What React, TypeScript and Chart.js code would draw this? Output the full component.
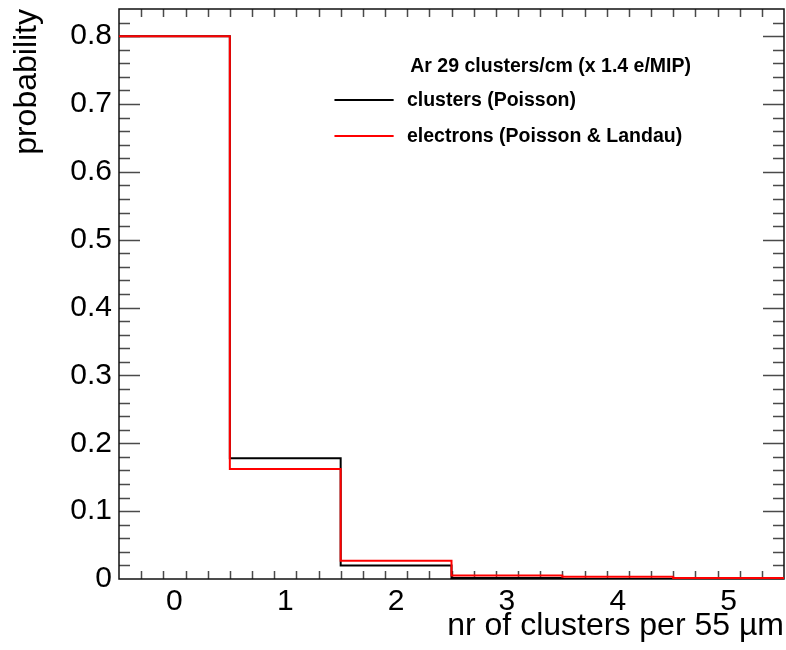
import React, { useEffect, useRef } from 'react';
import { Chart, registerables } from 'chart.js';

Chart.register(...registerables);

// ---- data ----
const binCenters = [0, 1, 2, 3, 4, 5];
const clustersPoisson = [0.8, 0.178, 0.02, 0.0015, 0.0001, 0.0];
const electronsPoissonLandau = [0.8, 0.162, 0.027, 0.005, 0.0032, 0.0015];
const xTickValues = [0, 1, 2, 3, 4, 5];
const yTickValues = [0, 0.1, 0.2, 0.3, 0.4, 0.5, 0.6, 0.7, 0.8];
const legendHeader = 'Ar 29 clusters/cm (x 1.4 e/MIP)';
const seriesLabels = ['clusters (Poisson)', 'electrons (Poisson & Landau)'];
const seriesColors = ['#000000', '#ff0000'];
const xTitle = 'nr of clusters per 55 \u00b5m';
const yTitle = 'probability';
const xRange = [-0.5, 5.5];
const yRange = [0, 0.84];
const xMinorStep = 0.2;
const yMinorStep = 0.02;

const FONT = "'Liberation Sans', Arial, Helvetica, sans-serif";

function toSteps(values: number[]) {
  const pts = values.map((v, i) => ({ x: binCenters[i] - 0.5, y: v }));
  const last = values.length - 1;
  pts.push({ x: binCenters[last] + 0.5, y: values[last] });
  return pts;
}

const framePlugin = {
  id: 'rootFrame',
  beforeDatasetsDraw(chart: any) {
    const { ctx, chartArea: a, scales } = chart;
    const xs = scales.x;
    const ys = scales.y;
    ctx.save();
    ctx.strokeStyle = '#4a4a4a';
    ctx.lineWidth = 1.5;
    ctx.beginPath();
    const nx = Math.round((xRange[1] - xRange[0]) / xMinorStep);
    for (let i = 0; i <= nx; i++) {
      const v = xRange[0] + i * xMinorStep;
      const isMajor = Math.abs(v - Math.round(v)) < 1e-6;
      const len = isMajor ? 17 : 8;
      const px = Math.round(xs.getPixelForValue(v)) + 0.5;
      if (px <= a.left + 1 || px >= a.right - 1) continue;
      ctx.moveTo(px, a.bottom);
      ctx.lineTo(px, a.bottom - len);
      ctx.moveTo(px, a.top);
      ctx.lineTo(px, a.top + len);
    }
    const ny = Math.round((yRange[1] - yRange[0]) / yMinorStep);
    for (let i = 0; i <= ny; i++) {
      const v = yRange[0] + i * yMinorStep;
      const isMajor = Math.abs(v * 10 - Math.round(v * 10)) < 1e-6;
      const len = isMajor ? 21 : 11;
      const py = Math.round(ys.getPixelForValue(v)) + 0.5;
      if (py <= a.top + 1 || py >= a.bottom - 1) continue;
      ctx.moveTo(a.left, py);
      ctx.lineTo(a.left + len, py);
      ctx.moveTo(a.right, py);
      ctx.lineTo(a.right - len, py);
    }
    ctx.stroke();
    ctx.strokeStyle = '#111111';
    ctx.lineWidth = 1.5;
    ctx.strokeRect(a.left, a.top, a.right - a.left, a.bottom - a.top);
    ctx.restore();
  },
  afterDatasetsDraw(chart: any) {
    const { ctx, chartArea: a } = chart;
    const w = a.right - a.left;
    ctx.save();
    ctx.fillStyle = '#000';
    ctx.font = `bold 19.5px ${FONT}`;
    ctx.textBaseline = 'middle';
    ctx.textAlign = 'left';
    const headerX = a.left + w * 0.438;
    ctx.fillText(legendHeader, headerX, a.top + 58);
    const lineX0 = a.left + w * 0.324;
    const lineX1 = a.left + w * 0.413;
    const textX = a.left + w * 0.433;
    const rows = [a.top + 91, a.top + 127];
    seriesLabels.forEach((lab, i) => {
      ctx.strokeStyle = seriesColors[i];
      ctx.lineWidth = 2;
      ctx.beginPath();
      ctx.moveTo(lineX0, rows[i]);
      ctx.lineTo(lineX1, rows[i]);
      ctx.stroke();
      ctx.fillStyle = '#000';
      ctx.fillText(lab, textX, rows[i] + 1);
    });
    ctx.restore();
  },
};

export default function App() {
  const ref = useRef<HTMLCanvasElement | null>(null);
  useEffect(() => {
    document.body.style.margin = '0';
    const canvas = ref.current;
    if (!canvas) return;
    const chart = new Chart(canvas, {
      type: 'line',
      data: {
        datasets: [
          {
            label: seriesLabels[0],
            data: toSteps(clustersPoisson),
            borderColor: seriesColors[0],
            borderWidth: 2,
            stepped: true,
            pointRadius: 0,
            fill: false,
            order: 2,
          },
          {
            label: seriesLabels[1],
            data: toSteps(electronsPoissonLandau),
            borderColor: seriesColors[1],
            borderWidth: 2,
            stepped: true,
            pointRadius: 0,
            fill: false,
            order: 1,
          },
        ],
      },
      options: {
        responsive: false,
        animation: false,
        events: [],
        layout: { padding: { top: 9, right: 2, left: 0, bottom: 0 } },
        plugins: {
          legend: { display: false },
          tooltip: { enabled: false },
        },
        scales: {
          x: {
            type: 'linear',
            min: xRange[0],
            max: xRange[1],
            afterBuildTicks: (s: any) => {
              s.ticks = xTickValues.map((v) => ({ value: v }));
            },
            afterFit: (s: any) => {
              s.height = 71;
              s.paddingLeft = 0;
              s.paddingRight = 0;
            },
            grid: { display: false, drawTicks: false },
            border: { display: false },
            ticks: {
              color: '#000',
              font: { family: FONT, size: 30 },
              padding: 5,
              maxRotation: 0,
              autoSkip: false,
              callback: (v: any) => String(v),
            },
            title: {
              display: true,
              text: xTitle,
              align: 'end',
              color: '#000',
              font: { family: FONT, size: 32 },
              padding: { top: 0, bottom: 5 },
            },
          },
          y: {
            type: 'linear',
            min: yRange[0],
            max: yRange[1],
            afterBuildTicks: (s: any) => {
              s.ticks = yTickValues.map((v) => ({ value: v }));
            },
            afterFit: (s: any) => {
              s.width = 119;
              s.paddingTop = 0;
              s.paddingBottom = 0;
            },
            grid: { display: false, drawTicks: false },
            border: { display: false },
            ticks: {
              color: '#000',
              font: { family: FONT, size: 30 },
              padding: 7,
              autoSkip: false,
              callback: (v: any) => (v === 0 ? '0' : Number(v).toFixed(1)),
            },
            title: {
              display: true,
              text: yTitle,
              align: 'end',
              color: '#000',
              font: { family: FONT, size: 32 },
              padding: { top: 8, bottom: 0 },
            },
          },
        },
      },
      plugins: [framePlugin],
    } as any);
    return () => chart.destroy();
  }, []);
  return (
    <div style={{ position: 'absolute', left: 0, top: 0, width: 786, height: 650, background: '#fff' }}>
      <canvas ref={ref} width={786} height={650} />
    </div>
  );
}
